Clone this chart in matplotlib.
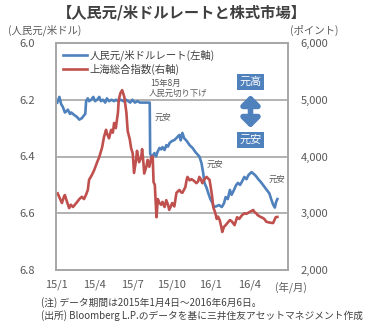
import pandas as pd
import matplotlib
matplotlib.use('Agg')
import matplotlib.pyplot as plt

plt.rcParams['font.family'] = ['Noto Sans CJK JP', 'DejaVu Sans']

# 人民元/米ドルレート (左軸, 反転)
cny_dates = ['2015-01-04', '2015-01-09', '2015-01-13', '2015-01-17', '2015-01-22', '2015-01-26',
             '2015-01-29', '2015-02-03', '2015-02-06', '2015-02-10', '2015-02-14', '2015-02-19',
             '2015-02-25', '2015-03-03', '2015-03-08', '2015-03-11', '2015-03-13', '2015-03-17',
             '2015-03-20', '2015-03-25', '2015-03-30', '2015-04-03', '2015-04-08', '2015-04-13',
             '2015-04-17', '2015-04-22', '2015-04-27', '2015-05-01', '2015-05-06', '2015-05-12',
             '2015-05-18', '2015-05-22', '2015-05-28', '2015-06-03', '2015-06-09', '2015-06-15',
             '2015-06-20', '2015-06-25', '2015-06-30', '2015-07-06', '2015-07-12', '2015-07-18',
             '2015-07-24', '2015-07-30', '2015-08-05', '2015-08-10', '2015-08-11', '2015-08-14',
             '2015-08-18', '2015-08-21', '2015-08-25', '2015-08-28', '2015-09-02', '2015-09-06',
             '2015-09-09', '2015-09-14', '2015-09-18', '2015-09-22', '2015-09-26', '2015-10-02',
             '2015-10-07', '2015-10-12', '2015-10-15', '2015-10-19', '2015-10-22', '2015-10-26',
             '2015-10-30', '2015-11-05', '2015-11-12', '2015-11-19', '2015-11-26', '2015-12-05',
             '2015-12-10', '2015-12-14', '2015-12-17', '2015-12-22', '2015-12-26', '2015-12-31',
             '2016-01-05', '2016-01-08', '2016-01-15', '2016-01-20', '2016-01-27', '2016-02-01',
             '2016-02-05', '2016-02-10', '2016-02-15', '2016-02-19', '2016-02-24', '2016-03-01',
             '2016-03-05', '2016-03-10', '2016-03-15', '2016-03-20', '2016-03-25', '2016-03-30',
             '2016-04-06', '2016-04-10', '2016-04-14', '2016-04-18', '2016-04-22', '2016-04-28',
             '2016-05-03', '2016-05-08', '2016-05-13', '2016-05-18', '2016-05-23', '2016-05-27',
             '2016-05-31', '2016-06-03', '2016-06-06']
cny_values = [6.21, 6.19, 6.215, 6.225, 6.245, 6.24,
              6.235, 6.25, 6.245, 6.25, 6.255, 6.26,
              6.27, 6.265, 6.255, 6.25, 6.205, 6.195,
              6.205, 6.20, 6.19, 6.205, 6.20, 6.19,
              6.205, 6.20, 6.21, 6.195, 6.205, 6.20,
              6.205, 6.20, 6.205, 6.20, 6.205, 6.20,
              6.205, 6.21, 6.20, 6.21, 6.205, 6.21,
              6.21, 6.21, 6.21, 6.21, 6.39, 6.40,
              6.395, 6.388, 6.40, 6.385, 6.37, 6.375,
              6.367, 6.377, 6.36, 6.365, 6.352, 6.345,
              6.342, 6.335, 6.33, 6.324, 6.343, 6.317,
              6.335, 6.345, 6.36, 6.37, 6.385, 6.40,
              6.423, 6.458, 6.493, 6.51, 6.529, 6.55,
              6.564, 6.578, 6.575, 6.571, 6.578, 6.565,
              6.543, 6.55, 6.518, 6.535, 6.52, 6.50,
              6.493, 6.50, 6.487, 6.472, 6.48, 6.465,
              6.455, 6.46, 6.465, 6.472, 6.48, 6.49,
              6.50, 6.51, 6.52, 6.53, 6.553, 6.57,
              6.58, 6.56, 6.55]

# 上海総合指数 (右軸)
sh_dates = ['2015-01-05', '2015-01-09', '2015-01-15', '2015-01-20', '2015-01-22', '2015-01-27',
            '2015-02-01', '2015-02-05', '2015-02-10', '2015-02-14', '2015-02-20', '2015-02-25',
            '2015-03-03', '2015-03-08', '2015-03-13', '2015-03-17', '2015-03-20', '2015-03-27',
            '2015-04-01', '2015-04-08', '2015-04-13', '2015-04-20', '2015-04-24', '2015-04-29',
            '2015-05-01', '2015-05-06', '2015-05-11', '2015-05-15', '2015-05-18', '2015-05-22',
            '2015-05-27', '2015-05-29', '2015-06-02', '2015-06-06', '2015-06-11', '2015-06-16',
            '2015-06-19', '2015-06-24', '2015-06-27', '2015-07-01', '2015-07-04', '2015-07-09',
            '2015-07-11', '2015-07-16', '2015-07-21', '2015-07-23', '2015-07-26', '2015-07-28',
            '2015-08-02', '2015-08-05', '2015-08-09', '2015-08-14', '2015-08-17', '2015-08-19',
            '2015-08-22', '2015-08-24', '2015-08-26', '2015-08-29', '2015-09-02', '2015-09-06',
            '2015-09-09', '2015-09-14', '2015-09-18', '2015-09-22', '2015-09-25', '2015-10-02',
            '2015-10-07', '2015-10-12', '2015-10-16', '2015-10-19', '2015-10-23', '2015-10-26',
            '2015-11-02', '2015-11-05', '2015-11-07', '2015-11-12', '2015-11-16', '2015-11-19',
            '2015-11-24', '2015-11-28', '2015-12-02', '2015-12-05', '2015-12-09', '2015-12-12',
            '2015-12-17', '2015-12-22', '2015-12-26', '2015-12-29', '2016-01-01', '2016-01-04',
            '2016-01-07', '2016-01-11', '2016-01-15', '2016-01-18', '2016-01-22', '2016-01-26',
            '2016-01-28', '2016-02-01', '2016-02-05', '2016-02-15', '2016-02-19', '2016-02-22',
            '2016-02-26', '2016-03-03', '2016-03-08', '2016-03-15', '2016-03-21', '2016-03-25',
            '2016-04-01', '2016-04-06', '2016-04-10', '2016-04-13', '2016-04-17', '2016-04-20',
            '2016-04-26', '2016-05-02', '2016-05-06', '2016-05-11', '2016-05-16', '2016-05-23',
            '2016-05-27', '2016-05-30', '2016-06-02', '2016-06-06']
sh_values = [3350, 3280, 3180, 3300, 3320, 3200,
             3090, 3150, 3110, 3145, 3200, 3250,
             3290, 3250, 3330, 3410, 3590, 3680,
             3760, 3900, 3990, 4170, 4340, 4470,
             4410, 4320, 4470, 4420, 4590, 4500,
             4770, 5000, 5120, 5170, 5050, 4770,
             4450, 4300, 4150, 4050, 3710, 3950,
             4100, 3900, 3990, 4130, 3900, 3700,
             3820, 3940, 3820, 3990, 4000, 3550,
             3500, 3200, 2930, 3250, 3180, 3150,
             3200, 3110, 3230, 3150, 3060, 3180,
             3120, 3360, 3390, 3410, 3370, 3360,
             3460, 3590, 3640, 3580, 3600, 3590,
             3560, 3530, 3560, 3640, 3590, 3530,
             3600, 3640, 3610, 3590, 3450, 3300,
             3100, 3020, 2900, 2940, 2880, 2750,
             2670, 2760, 2790, 2880, 2860, 2830,
             2790, 2930, 2900, 2970, 3000, 2990,
             3020, 3040, 3057, 3020, 3000, 2970,
             2940, 2920, 2900, 2850, 2840, 2830,
             2828, 2880, 2930, 2935]

x_ticks = ['2015-01-01', '2015-04-01', '2015-07-01', '2015-10-01', '2016-01-01', '2016-04-01']
x_tick_labels = ['15/1', '15/4', '15/7', '15/10', '16/1', '16/4']
left_ticks = [6.0, 6.2, 6.4, 6.6, 6.8]
right_ticks = [2000, 3000, 4000, 5000, 6000]

blue = '#4f81bd'
red = '#c0504d'
gray_txt = '#595959'
dark_txt = '#404040'
grid_col = '#a6a6a6'

fig = plt.figure(figsize=(3.71, 3.28), dpi=100)
ax = fig.add_axes([56 / 371, 58 / 328, 232 / 371, 227 / 328])
ax2 = ax.twinx()

l1, = ax.plot(pd.to_datetime(cny_dates), cny_values, color=blue, lw=1.9,
              label='人民元/米ドルレート(左軸)')
l2, = ax2.plot(pd.to_datetime(sh_dates), sh_values, color=red, lw=1.9,
               label='上海総合指数(右軸)')

ax.set_ylim(6.8, 6.0)
ax2.set_ylim(2000, 6000)
ax.set_xlim(pd.Timestamp('2015-01-01'), pd.Timestamp('2016-07-01'))
ax.set_yticks(left_ticks)
ax.set_yticklabels([f'{v:.1f}' for v in left_ticks])
ax2.set_yticks(right_ticks)
ax2.set_yticklabels([f'{v:,}' for v in right_ticks])
ax.set_xticks(pd.to_datetime(x_ticks))
ax.set_xticklabels(x_tick_labels)

ax.grid(axis='y', color=grid_col, lw=1.2)
ax.set_axisbelow(True)
for a in (ax, ax2):
    for s in a.spines.values():
        s.set_color(grid_col)
        s.set_linewidth(1.2)
ax.tick_params(axis='y', length=0, pad=15, labelsize=8, labelcolor=gray_txt)
ax.tick_params(axis='x', length=0, pad=7, labelsize=8, labelcolor=gray_txt)
ax2.tick_params(axis='y', length=0, pad=9, labelsize=8, labelcolor=gray_txt)

leg = ax2.legend(handles=[l1, l2], loc='upper left', bbox_to_anchor=(0.0, 1.0),
                 frameon=False, fontsize=7.5, handlelength=2.3, handletextpad=0.25,
                 labelspacing=0.25, borderaxespad=0.25)
for t in leg.get_texts():
    t.set_color(dark_txt)


# annotation positions given in reference pixels
def fx(px):
    return (px - 56) / 232


def fy(py):
    return (270 - py) / 227


ax2.text(fx(150), fy(83), '15年8月', transform=ax2.transAxes, fontsize=6,
         color=gray_txt, ha='left', va='center')
ax2.text(fx(149), fy(93), '人民元切り下げ', transform=ax2.transAxes, fontsize=6,
         color=gray_txt, ha='left', va='center')
for px, py in [(163, 117), (215, 164), (277, 179)]:
    ax2.text(fx(px), fy(py), '元安', transform=ax2.transAxes, fontsize=6,
             color=gray_txt, ha='center', va='center')

for py, txt in [(82, '元高'), (140, '元安')]:
    ax2.text(fx(250.5), fy(py), txt, transform=ax2.transAxes, fontsize=8,
             color='white', ha='center', va='center',
             bbox=dict(boxstyle='square,pad=0.25', fc=blue, ec='none'))
ax2.annotate('', xy=(fx(250.5), fy(95)), xytext=(fx(250.5), fy(128)),
             xycoords='axes fraction', textcoords='axes fraction',
             arrowprops=dict(arrowstyle='<|-|>,head_width=0.45,head_length=0.45',
                             lw=4, color=blue, mutation_scale=12,
                             shrinkA=0, shrinkB=0))

fig.text(182 / 371, 1 - 13 / 328, '【人民元/米ドルレートと株式市場】', fontsize=11,
         fontweight='bold', color=dark_txt, ha='center', va='center')
fig.text(8 / 371, 1 - 30 / 328, '(人民元/米ドル)', fontsize=7.5, color=gray_txt,
         ha='left', va='center')
fig.text(290 / 371, 1 - 30 / 328, '(ポイント)', fontsize=7.5, color=gray_txt,
         ha='left', va='center')
fig.text(275 / 371, 1 - 287 / 328, '(年/月)', fontsize=7.5, color=gray_txt,
         ha='left', va='center')
fig.text(41 / 371, 1 - 303 / 328, '(注) データ期間は2015年1月4日～2016年6月6日。',
         fontsize=7.0, color=dark_txt, ha='left', va='center')
fig.text(41 / 371, 1 - 316 / 328,
         '(出所) Bloomberg L.P.のデータを基に三井住友アセットマネジメント作成',
         fontsize=7.0, color=dark_txt, ha='left', va='center')

fig.savefig('out.png', dpi=100)
